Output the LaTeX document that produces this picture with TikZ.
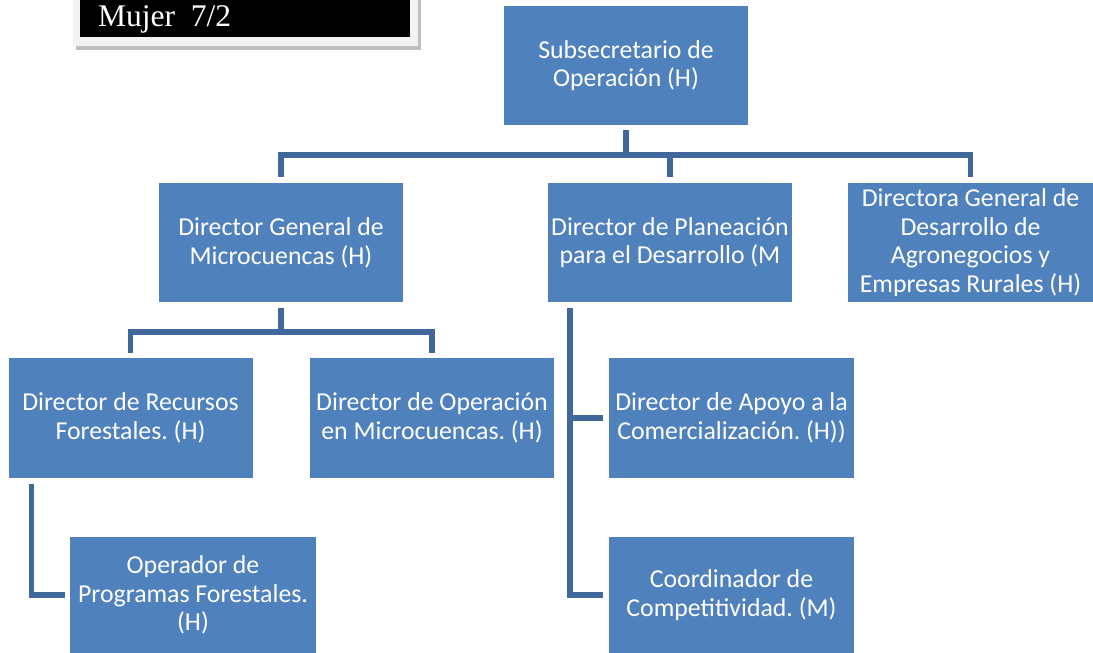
\documentclass[tikz,border=0pt]{standalone}
\usepackage{fontspec}
\setmainfont{Carlito}
\newfontfamily\serifmj{Liberation Serif}
\usetikzlibrary{calc}
\frenchspacing
\definecolor{boxblue}{RGB}{79,129,189}
\definecolor{connblue}{RGB}{65,104,156}
\definecolor{framegray}{RGB}{242,242,242}
\definecolor{shadowgray}{RGB}{190,190,190}
\tikzset{
  orgbox/.style={fill=boxblue, draw=none, text=white, align=center, inner sep=0pt,
    minimum width=244pt, minimum height=119pt,
    font=\fontsize{25.8}{28.7}\selectfont\frenchspacing},
  conn/.style={draw=connblue, line width=5.5pt, line join=miter},
}
\begin{document}
\begin{tikzpicture}[x=1pt,y=-1pt]
\useasboundingbox (0,0) rectangle (1093,653);
% label box
\fill[shadowgray] (76,46) rectangle (421,50);
\fill[shadowgray] (417,0) rectangle (421,50);
\fill[framegray] (73,0) rectangle (418,46);
\fill[black] (80,0) rectangle (410,37);
\node (lbl) [anchor=base west, text=white, inner sep=0pt, font=\serifmj\fontsize{31.5}{36}\selectfont] at (98,27) {Mujer~~7/2};
% boxes
\node[orgbox] (S) at (626,65.5) {Subsecretario de\\Operación (H)};
\node[orgbox] (A) at (281,242.5) {Director General de\\Microcuencas (H)};
\node[orgbox] (B) at (670,242.5) {Director de Planeación\\para el Desarrollo (M};
\node[orgbox, minimum width=245pt] (C) at (970.5,242.5) {Directora General de\\Desarrollo de\\Agronegocios y\\Empresas Rurales (H)};
\node[orgbox, minimum height=120pt] (D) at (130.5,418) {Director de Recursos\\Forestales. (H)};
\node[orgbox, minimum height=120pt] (E) at (432,418) {Director de Operación\\en Microcuencas. (H)};
\node[orgbox, minimum width=246pt, minimum height=116pt] (F) at (193,595) {Operador de\\Programas Forestales.\\(H)};
\node[orgbox, minimum width=245pt, minimum height=120pt] (G) at (731.5,418) {Director de Apoyo a la\\Comercialización. (H))};
\node[orgbox, minimum width=245pt, minimum height=116pt] (H) at (731.5,595) {Coordinador de\\Competitividad. (M)};
% connectors level 1
\coordinate (bus1) at ($(S.south)+(0,30)$);
\draw[conn] ([yshift=-5pt]S.south) -- (bus1);
\draw[conn] ([yshift=6pt]A.north) |- (bus1) -| ([yshift=6pt]C.north);
\draw[conn] ([yshift=6pt]B.north) -- (B.north |- bus1);
% connectors under A
\coordinate (bus2) at ($(A.south)+(0,30)$);
\draw[conn] ([yshift=-6pt]A.south) -- (bus2);
\draw[conn] ([yshift=5pt]D.north) |- (bus2) -| ([yshift=5pt]E.north);
% D to F
\coordinate (dl) at ([xshift=23pt,yshift=-6pt]D.south west);
\draw[conn] (dl) |- ([xshift=-5pt]F.west);
% B to G and H
\coordinate (bl) at ([xshift=22pt,yshift=-6pt]B.south west);
\draw[conn] (bl) |- ([xshift=-6pt]H.west);
\draw[conn] (bl |- G.west) -- ([xshift=-6pt]G.west);
\end{tikzpicture}
\end{document}
